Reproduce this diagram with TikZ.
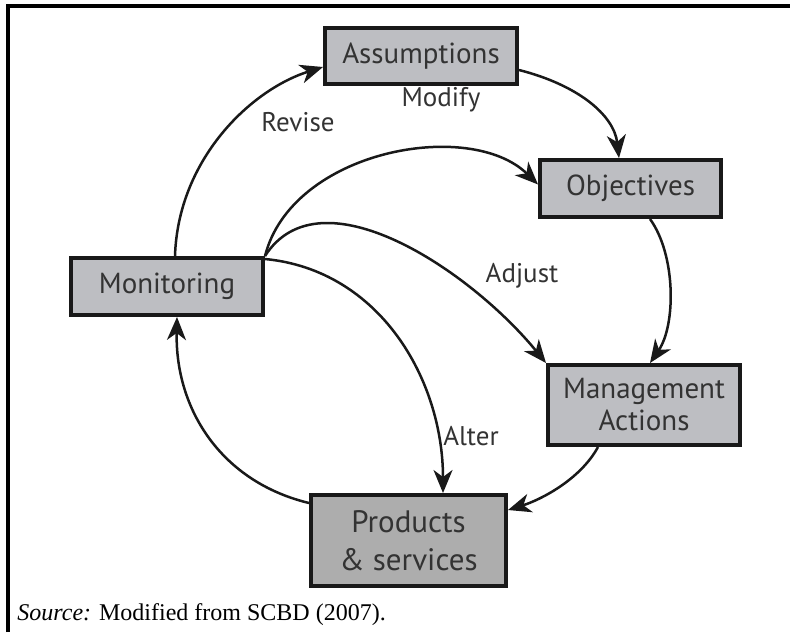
\documentclass[tikz,border=0pt]{standalone}
\usepackage{fontspec}
\setmainfont{Liberation Serif}
\newfontfamily\boxfont{PT Sans}
\usetikzlibrary{arrows.meta}
\definecolor{boxfill}{HTML}{BDBEC2}
\definecolor{prodfill}{HTML}{ADADAD}
\definecolor{txt}{HTML}{333333}
\begin{document}
\begin{tikzpicture}[x=0.5pt,y=-0.5pt,
  stagebox/.style={draw=black!90,line width=2pt,fill=boxfill,inner sep=0pt,align=center,
    text=txt,font=\boxfont\fontsize{14.5}{17}\selectfont},
  flow/.style={line width=1.25pt,black!90,-{Stealth[length=11.5pt,width=9.5pt,inset=3.5pt]}},
  lab/.style={text=txt,font=\boxfont\fontsize{13.5}{16}\selectfont,inner sep=0pt}]
\useasboundingbox (0,0) rectangle (790,632);
\coordinate (fbl) at (8,632);
\coordinate (ftl) at (8,6);
\coordinate (ftr) at (790,6);
\draw[line width=1.6pt] (fbl) -- (ftl) -- (ftr);

\node[stagebox,minimum width=96pt,minimum height=28pt] (A) at (421,56) {Assumptions};
\node[stagebox,minimum width=90.5pt,minimum height=28.5pt] (O) at (630.5,188.5) {Objectives};
\node[stagebox,minimum width=96pt,minimum height=28.5pt] (Mo) at (167,286.5) {Monitoring};
\node[stagebox,minimum width=96pt,minimum height=40pt] (MA) at (644,405) {Management\\[-1pt]Actions};
\node[stagebox,fill=prodfill,minimum width=97.5pt,minimum height=45.5pt,font=\boxfont\fontsize{15.5}{19}\selectfont] (P) at (408.5,540.5) {Products\\\& services};

\draw[flow] ([yshift=-7pt]A.east) .. controls (578,85) and (614,115) .. ([xshift=-5.75pt]O.north);
\draw[flow] ([xshift=9.75pt]O.south) .. controls (676,255) and (676,325) .. ([xshift=3pt]MA.north);
\draw[flow] ([xshift=-23pt]MA.south) .. controls (580,480) and (540,500) .. ([yshift=15.25pt]P.east);
\draw[flow] ([yshift=18.75pt]P.west) .. controls (222,482) and (175,410) .. ([xshift=5pt]Mo.south);
\draw[flow] ([xshift=4pt]Mo.north) .. controls (178,160) and (250,90) .. ([yshift=-5.5pt]A.west);
\draw[flow] (Mo.north east) .. controls (292,150) and (470,118) .. ([yshift=2pt]O.west);
\draw[flow] (Mo.north east) .. controls (320,170) and (470,270) .. (MA.north west);
\draw[flow] ([yshift=-1.5pt]Mo.north east) .. controls (380,270) and (443,380) .. ([xshift=17.25pt]P.north);

\node[lab] (lrev) at (298,122) {Revise};
\node[lab] (lmod) at (441,100) {Modify};
\node[lab] (ladj) at (522,276) {Adjust};
\node[lab] (lalt) at (471,436) {Alter};

\node[anchor=base west,inner sep=0pt,font=\fontsize{12}{14}\selectfont] (src) at (17,620) {\textit{Source:} Modified from SCBD (2007).};
\end{tikzpicture}
\end{document}
